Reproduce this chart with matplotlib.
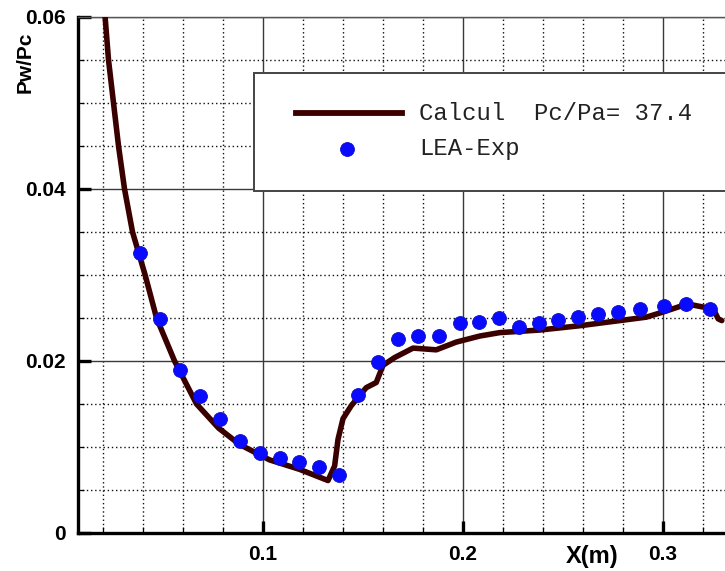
import matplotlib
matplotlib.use("Agg")
import matplotlib.pyplot as plt
from matplotlib.ticker import MultipleLocator, FixedLocator, FixedFormatter
from matplotlib.patches import Rectangle
from matplotlib.lines import Line2D

plt.rcParams['font.family'] = ['Liberation Sans', 'DejaVu Sans']

# Calculated wall pressure (Calcul, Pc/Pa = 37.4)
calc_x = [0.0213, 0.0230, 0.0255, 0.0280, 0.0310, 0.0350, 0.0413, 0.0470, 0.0560,
          0.0670, 0.0780, 0.0885, 0.1035, 0.1185, 0.1327, 0.1360, 0.1377, 0.1402,
          0.1443, 0.1518, 0.1568, 0.1602, 0.1660, 0.1752, 0.1868, 0.1968, 0.2085,
          0.2185, 0.2385, 0.2585, 0.2785, 0.2918, 0.3002, 0.3093, 0.3152, 0.3218,
          0.3260, 0.3277, 0.3295]
calc_y = [0.0600, 0.0550, 0.0500, 0.0450, 0.0400, 0.0350, 0.0300, 0.0250, 0.0200,
          0.0150, 0.0122, 0.0103, 0.0085, 0.0074, 0.0061, 0.0078, 0.0109, 0.0133,
          0.0148, 0.0169, 0.0175, 0.0195, 0.0204, 0.0215, 0.0213, 0.0222, 0.0229,
          0.0233, 0.0236, 0.0241, 0.0247, 0.0251, 0.0257, 0.0264, 0.0265, 0.0262,
          0.0257, 0.0249, 0.0247]

# Experimental data (LEA-Exp)
exp_x = [0.0385, 0.0485, 0.0585, 0.0685, 0.0785, 0.0885, 0.0985, 0.1088, 0.1180,
         0.1282, 0.1382, 0.1477, 0.1577, 0.1677, 0.1777, 0.1882, 0.1985, 0.2080,
         0.2180, 0.2280, 0.2380, 0.2477, 0.2577, 0.2677, 0.2777, 0.2885, 0.3005,
         0.3115, 0.3235]
exp_y = [0.0326, 0.0249, 0.0190, 0.0159, 0.0132, 0.0107, 0.0093, 0.0087, 0.0082,
         0.0077, 0.0067, 0.0161, 0.0199, 0.0226, 0.0229, 0.0229, 0.0244, 0.0245,
         0.0250, 0.0239, 0.0244, 0.0248, 0.0251, 0.0255, 0.0257, 0.0260, 0.0264,
         0.0266, 0.0261]

x_ticks = [0.1, 0.2, 0.3]
x_ticklabels = ["0.1", "0.2", "0.3"]
y_ticks = [0.0, 0.02, 0.04, 0.06]
y_ticklabels = ["0", "0.02", "0.04", "0.06"]

calc_label = "Calcul  Pc/Pa= 37.4"
exp_label = "LEA-Exp"

W, H = 725, 571
fig = plt.figure(figsize=(W / 100, H / 100), dpi=100)
ax = fig.add_axes([78 / W, (H - 533) / H, 647 / W, 516 / H])

line_color = "#3a0000"
marker_color = "#0a0aff"

ax.plot(calc_x, calc_y, color=line_color, lw=4.0, solid_capstyle='round',
        solid_joinstyle='round', zorder=3)
ax.plot(exp_x, exp_y, linestyle='none', marker='o', ms=10, mfc=marker_color,
        mec="#1010c0", mew=0.6, zorder=4)

ax.set_xlim(0.00775, 0.3311)
ax.set_ylim(0.0, 0.06)

ax.xaxis.set_major_locator(FixedLocator(x_ticks))
ax.xaxis.set_major_formatter(FixedFormatter(x_ticklabels))
ax.yaxis.set_major_locator(FixedLocator(y_ticks))
ax.yaxis.set_major_formatter(FixedFormatter(y_ticklabels))
ax.xaxis.set_minor_locator(MultipleLocator(0.02))
ax.yaxis.set_minor_locator(MultipleLocator(0.005))

ax.grid(which='major', color='#3a3a3a', lw=1.0, ls='-', zorder=1)
ax.grid(which='minor', color='#111111', lw=1.0, ls=(0, (1, 2)), zorder=1)
ax.set_axisbelow(True)

ax.tick_params(which='major', direction='in', length=9, width=2.4,
               labelsize=15, pad=9, top=False, right=False)
ax.tick_params(which='minor', direction='in', length=4, width=0.9,
               top=False, right=False)
for lab in ax.get_xticklabels() + ax.get_yticklabels():
    lab.set_fontweight('bold')

for side in ('left', 'bottom'):
    ax.spines[side].set_linewidth(2.4)
    ax.spines[side].set_color('black')
ax.spines['top'].set_color('#555555')
ax.spines['top'].set_linewidth(1.0)
ax.spines['right'].set_visible(False)

fig.text(25 / W, 1 - 62 / H, "Pw/Pc", fontsize=15, fontweight='bold',
         rotation=90, ha='center', va='center')
fig.text(592 / W, 1 - 556 / H, "X(m)", fontsize=17, fontweight='bold',
         ha='center', va='center')

# Legend box (drawn in axes coordinates)
aw, ah = 647.0, 516.0
def ax_x(px):
    return (px - 78) / aw
def ax_y(py):
    return (533 - py) / ah

box = Rectangle((ax_x(254), ax_y(191)), 1.2, ax_y(73) - ax_y(191),
                transform=ax.transAxes, facecolor='white', edgecolor='#444444',
                lw=1.4, zorder=6, clip_on=True)
ax.add_patch(box)
ax.add_line(Line2D([ax_x(296), ax_x(402)], [ax_y(113), ax_y(113)],
                   transform=ax.transAxes, color=line_color, lw=4.2, zorder=7))
ax.add_line(Line2D([ax_x(347)], [ax_y(149)], transform=ax.transAxes,
                   marker='o', ms=10, mfc=marker_color, mec="#1010c0",
                   mew=0.6, linestyle='none', zorder=7))
ax.text(ax_x(419), ax_y(113), calc_label, transform=ax.transAxes,
        family=['Liberation Mono', 'DejaVu Sans Mono'], fontsize=17.2,
        va='center', ha='left', zorder=8, color='#222222')
ax.text(ax_x(419), ax_y(149), exp_label, transform=ax.transAxes,
        family=['Liberation Mono', 'DejaVu Sans Mono'], fontsize=17.2,
        va='center', ha='left', zorder=8, color='#222222')

fig.savefig("out.png", dpi=100)
